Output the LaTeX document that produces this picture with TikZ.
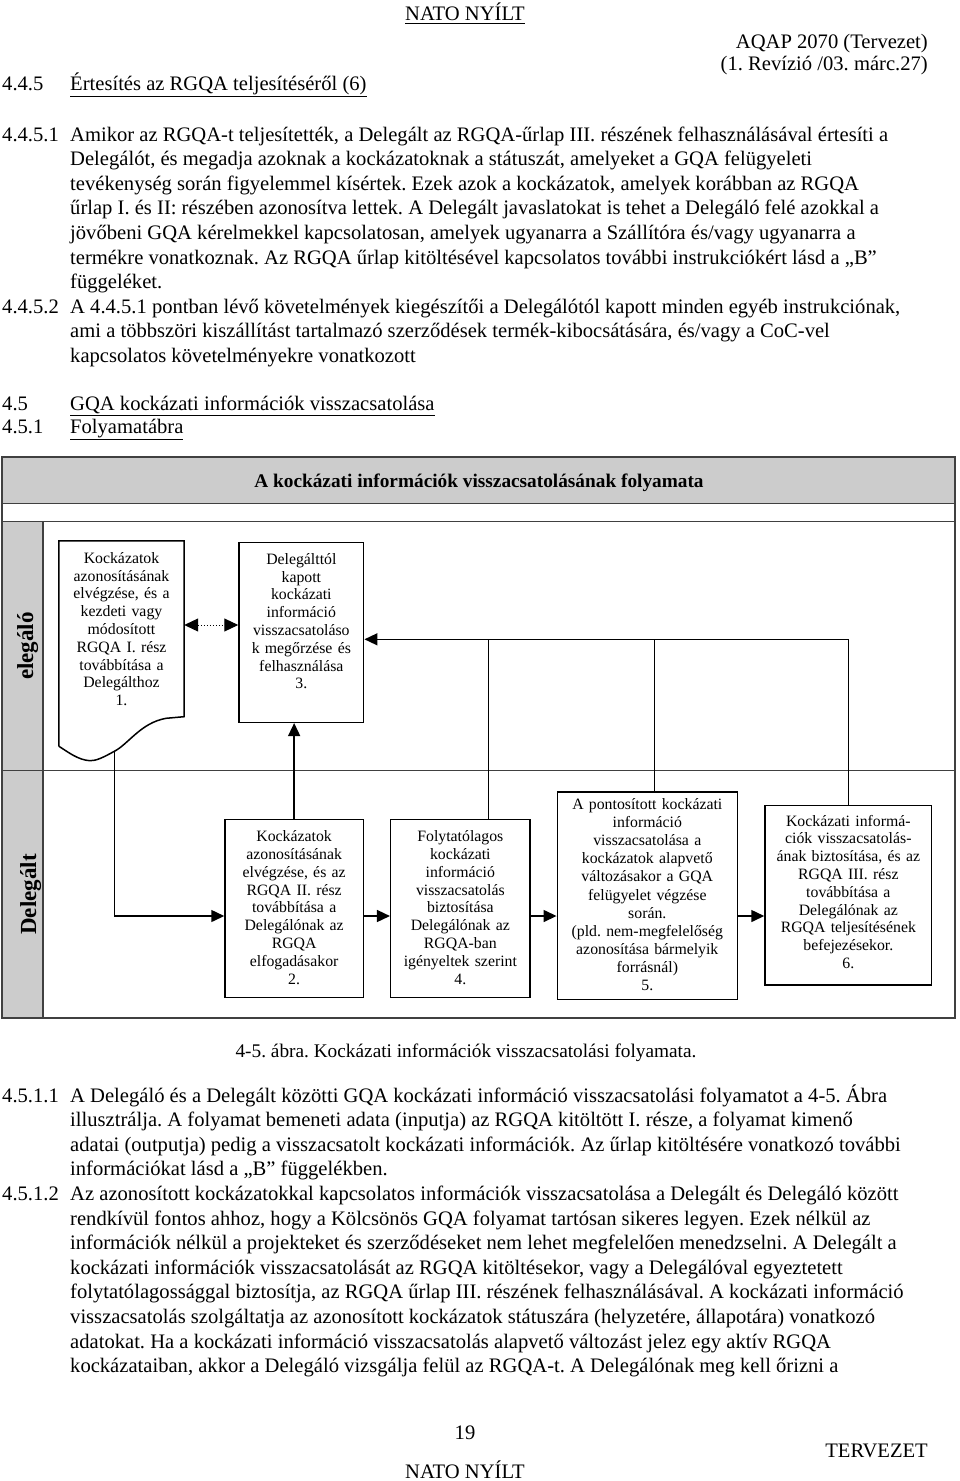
\documentclass[tikz,border=0pt]{standalone}
\usepackage{fontspec}
\setmainfont{Liberation Serif}
\usetikzlibrary{arrows.meta,calc}
\frenchspacing
\newcommand\bline[4]{\node[bl] (#1) at (#2,#3) {#4};}
\tikzset{
 body/.style={inner sep=0pt, font=\fontsize{20.6}{24.6}\selectfont\frenchspacing},
 bl/.style={body, anchor=base west},
 frameline/.style={draw=black!75, line width=1.4pt},
 box/.style={draw=black, line width=1.5pt, rectangle, inner sep=0pt},
 boxtext/.style={inner sep=0pt, anchor=base, align=center, font=\fontsize{15.8}{17.8}\selectfont},
 conn/.style={line width=1.5pt, draw=black},
 arr/.style={conn, -{Triangle[length=13pt,width=12pt]}},
 darr/.style={draw=black, line width=1pt, dash pattern=on 1.5pt off 1.5pt, {Triangle[length=14pt,width=13pt]}-{Triangle[length=14pt,width=13pt]}},
 lanelabel/.style={inner sep=0pt, font=\fontsize{23}{26}\selectfont\bfseries, rotate=90, anchor=base},
}
\begin{document}
\begin{tikzpicture}[x=1pt,y=-1pt]
\useasboundingbox (0,0) rectangle (960,1481);
% header
\node[body,anchor=base] (h1) at (465,20) {NATO NYÍLT};
\fill[black] (h1.base west) ++(0,2.5) rectangle ($(h1.base east)+(0,4)$);
\node[body,anchor=base east] (h2) at (928,48) {AQAP 2070 (Tervezet)};
\node[body,anchor=base east] (h3) at (928,70) {(1. Revízió /03. márc.27)};
\bline{s1}{2}{90}{4.4.5}
\bline{s1t}{70}{90}{\underline{Értesítés az RGQA teljesítéséről (6)}}
% 4.4.5.1
\bline{n1}{2}{141}{4.4.5.1}
\bline{p1}{70}{141}{Amikor az RGQA-t teljesítették, a Delegált az RGQA-űrlap III. részének felhasználásával értesíti a}
\bline{p2}{70}{165.6}{Delegálót, és megadja azoknak a kockázatoknak a státuszát, amelyeket a GQA felügyeleti}
\bline{p3}{70}{190.2}{tevékenység során figyelemmel kísértek. Ezek azok a kockázatok, amelyek korábban az RGQA}
\bline{p4}{70}{214.8}{űrlap I. és II: részében azonosítva lettek. A Delegált javaslatokat is tehet a Delegáló felé azokkal a}
\bline{p5}{70}{239.4}{jövőbeni GQA kérelmekkel kapcsolatosan, amelyek ugyanarra a Szállítóra és/vagy ugyanarra a}
\bline{p6}{70}{264}{termékre vonatkoznak. Az RGQA űrlap kitöltésével kapcsolatos további instrukciókért lásd a „B”}
\bline{p7}{70}{288.6}{függeléket.}
\bline{n2}{2}{313.2}{4.4.5.2}
\bline{p8}{70}{313.2}{A 4.4.5.1 pontban lévő követelmények kiegészítői a Delegálótól kapott minden egyéb instrukciónak,}
\bline{p9}{70}{337.8}{ami a többszöri kiszállítást tartalmazó szerződések termék-kibocsátására, és/vagy a CoC-vel}
\bline{p10}{70}{362.4}{kapcsolatos követelményekre vonatkozott}
\bline{s2}{2}{410}{4.5}
\bline{s2t}{70}{410}{\underline{GQA kockázati információk visszacsatolása}}
\bline{s3}{2}{433}{4.5.1}
\bline{s3t}{70}{433}{\underline{Folyamatábra}}
% ---------------- diagram frame
\fill[black!20] (2,457) rectangle (955,503.5);
\fill[black!20] (2,521.7) rectangle (43,1018);
\draw[frameline] (2,457) rectangle (955,1018);
\draw[frameline] (2,503.5) -- (955,503.5);
\draw[frameline] (2,521.7) -- (955,521.7);
\draw[frameline] (2,770.7) -- (955,770.7);
\draw[frameline] (43,521.7) -- (43,1018);
\node[inner sep=0pt,anchor=base,font=\fontsize{19.3}{22}\selectfont\bfseries] (title) at (479,487) {A kockázati információk visszacsatolásának folyamata};
\node[lanelabel] (lane1) at (33,646) {elegáló};
\node[lanelabel] (lane2) at (36,894.4) {Delegált};
% boxes
\node[rectangle, inner sep=0pt, minimum width=125pt, minimum height=205pt] (b1) at (121.5,643.5) {};
\draw[line width=1.5pt] (b1.south west) -- (b1.north west) -- (b1.north east) -- (184,716.7) -- (166,718.3)
  .. controls (140,723) and (128,745) .. (113,752)
  .. controls (104,757) and (96,761) .. (90,760.7)
  .. controls (78,760) and (68,752) .. (b1.south west);
\coordinate (c1) at (114.3,751.5);
\node[box, minimum width=124.7pt, minimum height=179.6pt] (b3) at (301.35,632.5) {};
\node[box, minimum width=138.3pt, minimum height=178pt] (b2) at (294.15,908.3) {};
\node[box, minimum width=139.3pt, minimum height=178pt] (b4) at (460.35,908.3) {};
\node[box, minimum width=180pt, minimum height=207.3pt] (b5) at (647.3,895.65) {};
\node[box, minimum width=166.7pt, minimum height=179.3pt] (b6) at (848.35,895.35) {};
% box texts
\node[boxtext, text width=120pt] (t1) at (121.5,563.3) {Kockázatok\\azonosításának\\elvégzése, és a\\kezdeti vagy\\módosított\\RGQA I. rész\\továbbítása a\\Delegálthoz\\1.};
\node[boxtext, text width=120pt] (t3) at (301.35,564.3) {Delegálttól\\kapott\\kockázati\\információ\\visszacsatoláso\\k megőrzése és\\felhasználása\\3.};
\node[boxtext, text width=134pt] (t2) at (294.15,841.7) {Kockázatok\\azonosításának\\elvégzése, és az\\RGQA II. rész\\továbbítása a\\Delegálónak az\\RGQA\\elfogadásakor\\2.};
\node[boxtext, text width=135pt] (t4) at (460.35,841.7) {Folytatólagos\\kockázati\\információ\\visszacsatolás\\biztosítása\\Delegálónak az\\RGQA-ban\\igényeltek szerint\\4.};
\node[boxtext, text width=176pt, font=\fontsize{15.8}{18.1}\selectfont] (t5) at (647.3,809.5) {A pontosított kockázati\\információ\\visszacsatolása a\\kockázatok alapvető\\változásakor a GQA\\felügyelet végzése\\során.\\(pld. nem-megfelelőség\\azonosítása bármelyik\\forrásnál)\\5.};
\node[boxtext, text width=162pt] (t6) at (848.35,826) {Kockázati informá-\\ciók visszacsatolás-\\ának biztosítása, és az\\RGQA III. rész\\továbbítása a\\Delegálónak az\\RGQA teljesítésének\\befejezésekor.\\6.};
% connectors
\coordinate (dy) at (0,625);
\coordinate (bus) at (0,639.3);
\coordinate (ay) at (0,916);
\draw[darr] (b1.east |- dy) -- (b3.west |- dy);
\draw[arr] (b2.north) -- (b2.north |- b3.south);
\draw[arr] (b6.north) -- (b6.north |- bus) -- (b3.east |- bus);
\draw[conn] ([xshift=7pt]b5.north) -- ([xshift=7pt]b5.north |- bus);
\draw[conn] ([xshift=28pt]b4.north) -- ([xshift=28pt]b4.north |- bus);
\draw[arr] (c1) -- (c1 |- ay) -- (b2.west |- ay);
\draw[arr] (b2.east |- ay) -- (b4.west |- ay);
\draw[arr] (b4.east |- ay) -- (b5.west |- ay);
\draw[arr] (b5.east |- ay) -- (b6.west |- ay);
% caption and lower text
\node[body,anchor=base,font=\fontsize{19.3}{24.6}\selectfont] (cap) at (466,1057) {4-5. ábra. Kockázati információk visszacsatolási folyamata.};
\bline{n3}{2}{1102}{4.5.1.1}
\bline{q1}{70}{1102}{A Delegáló és a Delegált közötti GQA kockázati információ visszacsatolási folyamatot a 4-5. Ábra}
\bline{q2}{70}{1126.6}{illusztrálja. A folyamat bemeneti adata (inputja) az RGQA kitöltött I. része, a folyamat kimenő}
\bline{q3}{70}{1151.2}{adatai (outputja) pedig a visszacsatolt kockázati információk. Az űrlap kitöltésére vonatkozó további}
\bline{q4}{70}{1175.8}{információkat lásd a „B” függelékben.}
\bline{n4}{2}{1200.4}{4.5.1.2}
\bline{r1}{70}{1200.4}{Az azonosított kockázatokkal kapcsolatos információk visszacsatolása a Delegált és Delegáló között}
\bline{r2}{70}{1225}{rendkívül fontos ahhoz, hogy a Kölcsönös GQA folyamat tartósan sikeres legyen. Ezek nélkül az}
\bline{r3}{70}{1249.6}{információk nélkül a projekteket és szerződéseket nem lehet megfelelően menedzselni. A Delegált a}
\bline{r4}{70}{1274.2}{kockázati információk visszacsatolását az RGQA kitöltésekor, vagy a Delegálóval egyeztetett}
\bline{r5}{70}{1298.8}{folytatólagossággal biztosítja, az RGQA űrlap III. részének felhasználásával. A kockázati információ}
\bline{r6}{70}{1323.4}{visszacsatolás szolgáltatja az azonosított kockázatok státuszára (helyzetére, állapotára) vonatkozó}
\bline{r7}{70}{1348}{adatokat. Ha a kockázati információ visszacsatolás alapvető változást jelez egy aktív RGQA}
\bline{r8}{70}{1372.6}{kockázataiban, akkor a Delegáló vizsgálja felül az RGQA-t. A Delegálónak meg kell őrizni a}
% footer
\node[body,anchor=base] (f1) at (465,1439) {19};
\node[body,anchor=base east] (f2) at (928,1457) {TERVEZET};
\node[body,anchor=base] (f3) at (465,1478) {NATO NYÍLT};
\end{tikzpicture}
\end{document}
